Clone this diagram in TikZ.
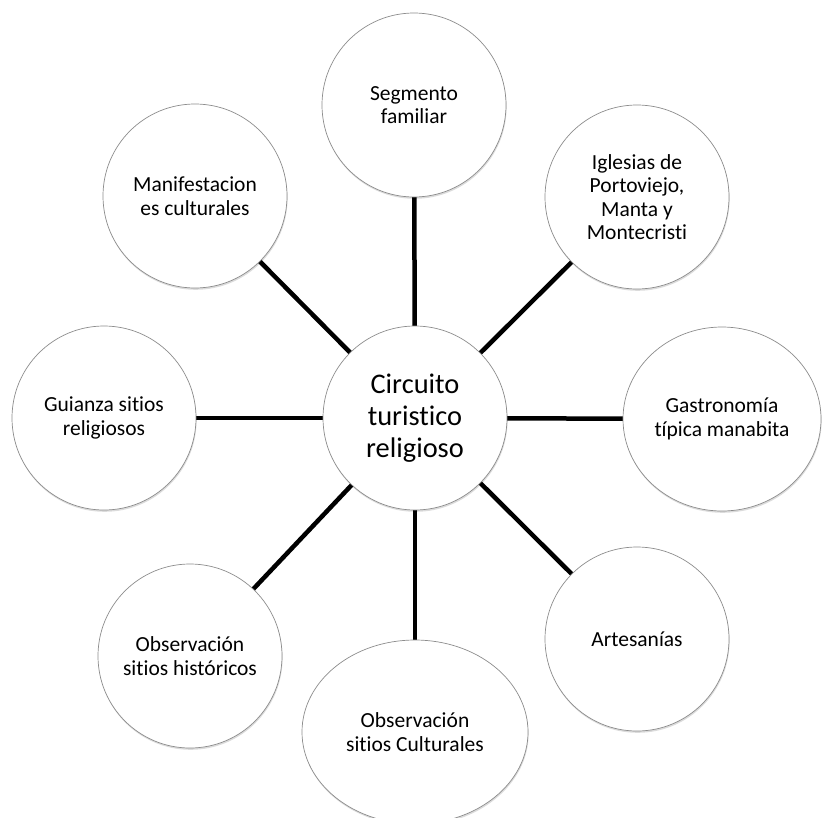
\documentclass[tikz,border=0pt]{standalone}
\usepackage{fontspec}
\setmainfont[Ligatures=NoCommon]{Carlito}
\usetikzlibrary{shapes.geometric,shadows,backgrounds}
\begin{document}
\begin{tikzpicture}[x=1pt,y=-1pt,
  bub/.style={circle, draw=black!45, line width=0.7pt, fill=white,
    minimum size=184pt, inner sep=0pt, align=center,
    font=\fontsize{21.5}{23.5}\selectfont,
    drop shadow={shadow xshift=0.6pt, shadow yshift=-1.8pt, opacity=0.14, fill=black}},
  ebub/.style={bub, ellipse},
  hub/.style={bub, font=\fontsize{28.4}{32}\selectfont},
  link/.style={line width=4.5pt, black}]
\useasboundingbox (0,0) rectangle (822,817);
\node[hub] (c) at (415,418) {Circuito\\turistico\\religioso};
\node[bub] (t) at (414,105) {Segmento\\familiar};
\node[bub] (ur) at (637,197) {Iglesias de\\Portoviejo,\\Manta y\\Montecristi};
\node[ebub, minimum width=198pt, minimum height=184pt] (r) at (722,419) {Gastronomía\\típica manabita};
\node[bub] (lr) at (637,639) {Artesanías};
\node[ebub, minimum width=226pt, minimum height=184pt] (b) at (415,732) {Observación\\sitios Culturales};
\node[bub] (ll) at (190,656) {Observación\\sitios históricos};
\node[bub] (l) at (104,418) {Guianza sitios\\religiosos};
\node[bub] (ul) at (195,196) {Manifestacion\\es culturales};
\begin{scope}[on background layer]
\foreach \n in {t,ur,r,lr,b,ll,l,ul}{\draw[link] (c.center) -- (\n.center);}
\end{scope}
\end{tikzpicture}
\end{document}
